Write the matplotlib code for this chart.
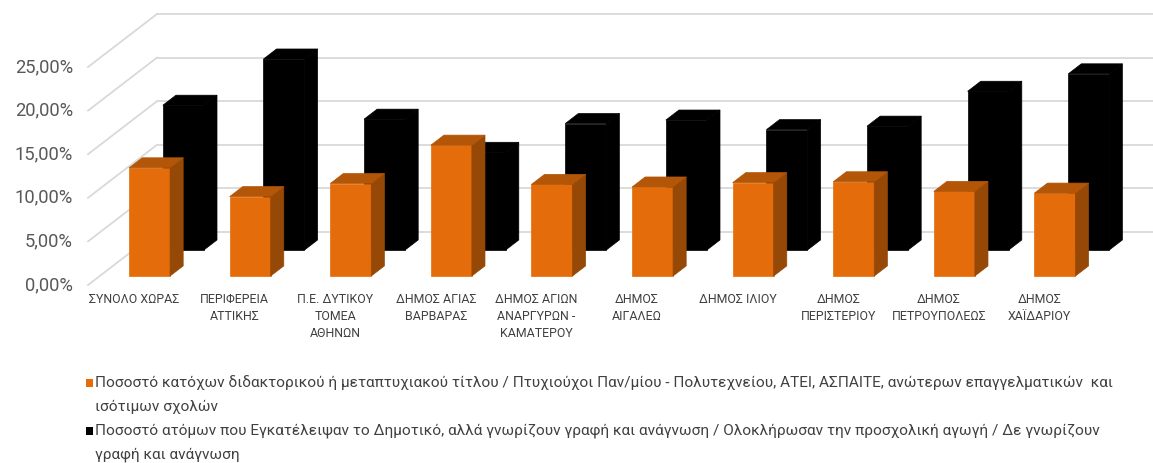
import matplotlib
matplotlib.use("Agg")
import matplotlib.pyplot as plt
from matplotlib.patches import Polygon, Rectangle

plt.rcParams['font.family'] = ['Roboto', 'DejaVu Sans']

# δεδομένα
categories = ["ΣΥΝΟΛΟ ΧΩΡΑΣ", "ΠΕΡΙΦΕΡΕΙΑ\nΑΤΤΙΚΗΣ", "Π.Ε. ΔΥΤΙΚΟΥ\nΤΟΜΕΑ\nΑΘΗΝΩΝ",
              "ΔΗΜΟΣ ΑΓΙΑΣ\nΒΑΡΒΑΡΑΣ", "ΔΗΜΟΣ ΑΓΙΩΝ\nΑΝΑΡΓΥΡΩΝ -\nΚΑΜΑΤΕΡΟΥ",
              "ΔΗΜΟΣ\nΑΙΓΑΛΕΩ", "ΔΗΜΟΣ ΙΛΙΟΥ", "ΔΗΜΟΣ\nΠΕΡΙΣΤΕΡΙΟΥ",
              "ΔΗΜΟΣ\nΠΕΤΡΟΥΠΟΛΕΩΣ", "ΔΗΜΟΣ\nΧΑΪΔΑΡΙΟΥ"]
higher_edu = [12.4, 9.1, 10.6, 15.0, 10.5, 10.2, 10.7, 10.8, 9.7, 9.5]
low_edu = [16.6, 21.9, 15.0, 11.2, 14.5, 14.9, 13.8, 14.2, 18.2, 20.2]
yticks = [0, 5, 10, 15, 20, 25]
ytick_labels = ["0,00%", "5,00%", "10,00%", "15,00%", "20,00%", "25,00%"]
legend_lines = [
    ["Ποσοστό κατόχων διδακτορικού ή μεταπτυχιακού τίτλου / Πτυχιούχοι Παν/μίου - Πολυτεχνείου, ΑΤΕΙ, ΑΣΠΑΙΤΕ, ανώτερων επαγγελματικών  και",
     "ισότιμων σχολών"],
    ["Ποσοστό ατόμων που Εγκατέλειψαν το Δημοτικό, αλλά γνωρίζουν γραφή και ανάγνωση / Ολοκλήρωσαν την προσχολική αγωγή / Δε γνωρίζουν",
     "γραφή και ανάγνωση"],
]

W, H = 1153, 463
fig = plt.figure(figsize=(W / 100, H / 100), dpi=100)
ax = fig.add_axes([0, 0, 1, 1])
ax.axis('off')

# κλίμακες: 1 κατηγορία = 100.6 px, 1% = 8.72 px
cx0, cw = 134, 100.6
y0, yu = 285, 8.72
ax.set_xlim(-cx0 / cw, (W - cx0) / cw)
ax.set_ylim((y0 - H) / yu, y0 / yu)

# ψευδο-3Δ βάθος (πλάγια προβολή)
DX, DY = 69 / cw, 53 / yu
wall_x = -0.457
grid_c = '#d9d9d9'

for v in yticks:
    ax.plot([wall_x, wall_x + DX], [v, v + DY], color=grid_c, lw=1.3, zorder=1)
    ax.plot([wall_x + DX, ax.get_xlim()[1]], [v + DY, v + DY], color=grid_c, lw=1.3, zorder=1)
for v, lab in zip(yticks, ytick_labels):
    ax.text(-0.606, v, lab, ha='right', va='center', fontsize=13.2, color='#595959')

bar_l, bar_w = -0.166, 0.408


def draw_bar(i, val, d0, d1, front, top, side, z):
    x0 = i + bar_l + d0 * DX
    yb = d0 * DY
    x1 = x0 + bar_w
    ddx, ddy = (d1 - d0) * DX, (d1 - d0) * DY
    yt = yb + val
    ax.add_patch(Polygon([(x0, yb), (x1, yb), (x1, yt), (x0, yt)], closed=True,
                         fc=front, ec=front, lw=0.5, zorder=z))
    ax.add_patch(Polygon([(x1, yb), (x1 + ddx, yb + ddy), (x1 + ddx, yt + ddy), (x1, yt)],
                         closed=True, fc=side, ec=side, lw=0.5, zorder=z))
    ax.add_patch(Polygon([(x0, yt), (x1, yt), (x1 + ddx, yt + ddy), (x0 + ddx, yt + ddy)],
                         closed=True, fc=top, ec=top, lw=0.5, zorder=z))


for i, v in enumerate(low_edu):
    draw_bar(i, v, 0.66, 0.85, '#000000', '#000000', '#000000', 3)
for i, v in enumerate(higher_edu):
    draw_bar(i, v, 0.17, 0.36, '#e46c0a', '#b35608', '#964806', 4)

for i, lab in enumerate(categories):
    ax.text(i, (y0 - 293) / yu, lab, ha='center', va='top', fontsize=8.9,
            color='#404040', linespacing=1.4)

# υπόμνημα
leg_colors = ['#e46c0a', '#000000']
line_y = [[383, 407], [431, 455]]
for col, lines, ys in zip(leg_colors, legend_lines, line_y):
    fig.patches.append(Rectangle((86 / W, 1 - (ys[0] + 4) / H), 7 / W, 8 / H,
                                 transform=fig.transFigure, fc=col, ec='none'))
    for txt, yy in zip(lines, ys):
        fig.text(95 / W, 1 - yy / H, txt, ha='left', va='center', fontsize=11.1,
                 color='#404040')

fig.savefig('out.png', dpi=100)
